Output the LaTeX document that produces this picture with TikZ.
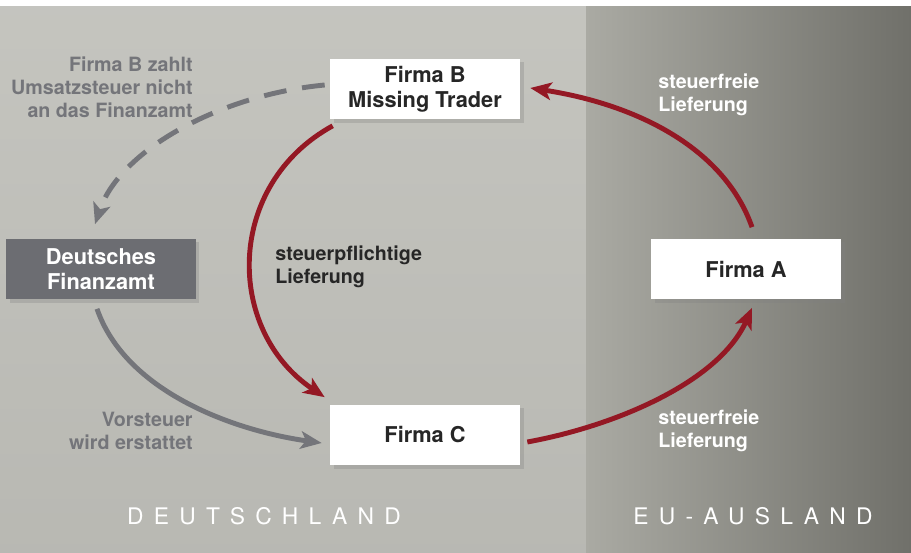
\documentclass[tikz,border=0pt]{standalone}
\usepackage{fontspec}
\setmainfont{TeX Gyre Heros}
\usetikzlibrary{arrows.meta,shadows}

\definecolor{weinrot}{RGB}{148,24,36}
\definecolor{amtgrau}{RGB}{108,109,114}
\definecolor{pfeilgrau}{RGB}{116,117,122}
\definecolor{hellgrund}{RGB}{194,194,188}

\begin{document}
\begin{tikzpicture}[x=0.02cm,y=-0.02cm,
  kasten/.style={minimum width=3.8cm,minimum height=1.22cm,inner sep=0pt,align=center,
    font=\fontsize{12.4}{14.4}\selectfont\bfseries,
    drop shadow={opacity=0.3,shadow xshift=2pt,shadow yshift=-2pt}},
  firma/.style={kasten,fill=white,text=black!85},
  amt/.style={kasten,fill=amtgrau,text=white},
  notiz/.style={font=\fontsize{11.2}{13}\selectfont\bfseries,inner sep=0pt},
  land/.style={font=\fontsize{13}{15}\selectfont\addfontfeatures{LetterSpace=45},text=white,inner sep=0pt},
  lieferung/.style={draw=weinrot,line width=2.8pt,-{Stealth[length=12pt,width=10pt,inset=3pt]}},
  steuer/.style={draw=pfeilgrau,line width=2.8pt,-{Stealth[length=12pt,width=10pt,inset=3pt]}}]

  % hintergrund
  \useasboundingbox (0,0) rectangle (911,553);
  \fill[white] (0,0) rectangle (911,7);
  \shade[top color=hellgrund!96!white,bottom color=hellgrund!95!black] (0,7) rectangle (586,553);
  \shade[left color={rgb,255:red,170;green,170;blue,163},right color={rgb,255:red,112;green,112;blue,106}] (586,7) rectangle (911,553);

  \node[firma] (fb) at (425,89) {Firma B\\Missing Trader};
  \node[firma] (fa) at (746,269) {Firma A};
  \node[firma] (fc) at (425,435) {Firma C};
  \node[amt] (fin) at (101,269) {Deutsches\\Finanzamt};

  \draw[lieferung] ([shift={(3,6)}]fb.south west) .. controls (225,185) and (225,330) .. ([shift={(-5,-7)}]fc.north west);
  \draw[lieferung] ([shift={(7,7)}]fc.east) .. controls (620,425) and (720,380) .. ([shift={(6,8)}]fa.south);
  \draw[lieferung] ([shift={(6,-11)}]fa.north) .. controls (725,150) and (640,105) .. ([shift={(10,-1)}]fb.east);
  \draw[steuer,dash pattern=on 13pt off 9pt] ([shift={(-5,-4)}]fb.west) .. controls (220,95) and (120,150) .. ([shift={(-6,-14)}]fin.north);
  \draw[steuer] ([shift={(-4,9)}]fin.south) .. controls (125,390) and (230,430) .. ([shift={(-8,8)}]fc.west);

  \node[notiz,text=pfeilgrau,align=right,anchor=east] (nb) at (193,87) {Firma B zahlt\\Umsatzsteuer nicht\\an das Finanzamt};
  \node[notiz,text=black!85,align=left,anchor=west] (np) at (275,267) {steuerpflichtige\\Lieferung};
  \node[notiz,text=pfeilgrau,align=right,anchor=east] (nv) at (193,431) {Vorsteuer\\wird erstattet};
  \node[notiz,text=white,align=left,anchor=west] (no) at (658,95) {steuerfreie\\Lieferung};
  \node[notiz,text=white,align=left,anchor=west] (nu) at (658,431) {steuerfreie\\Lieferung};

  \node[land] (de) at (264,516) {DEUTSCHLAND};
  \node[land] (eu) at (753,516) {EU-AUSLAND};
\end{tikzpicture}
\end{document}
